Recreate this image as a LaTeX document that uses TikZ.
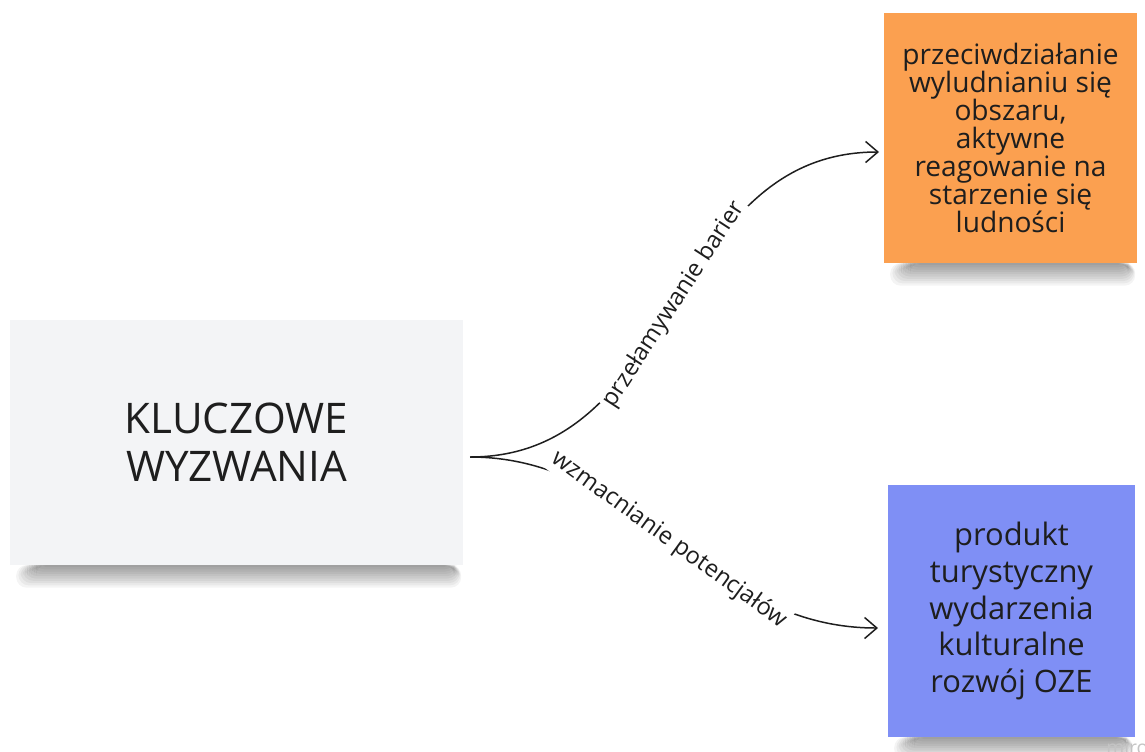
\documentclass[tikz,border=0pt]{standalone}
\usepackage{fontspec}
\setmainfont{Open Sans}
\usetikzlibrary{arrows.meta,calc}
\definecolor{keygray}{HTML}{F3F4F6}
\definecolor{notegold}{HTML}{FBA050}
\definecolor{noteblue}{HTML}{7F8FF5}
\definecolor{inkdark}{HTML}{1E1E1E}
\definecolor{wmark}{HTML}{C4C4C4}
\newcommand\castshadow[3]{% left x, right x, bottom y of the card
  \foreach \i in {1,...,10}{
    \fill[black, opacity=0.045, rounded corners=6]
      (#1+4+\i*2.2, #3) rectangle (#2-1-\i*0.8, #3+25-\i*2.3);
  }}
\tikzset{
  card/.style={rectangle, inner sep=0pt, align=center, text=inkdark},
  keycard/.style={card, fill=keygray, minimum width=9.06cm, minimum height=4.9cm,
    font=\fontsize{24}{27.2}\selectfont},
  goldnote/.style={card, fill=notegold, minimum width=5.06cm, minimum height=5cm,
    font=\fontsize{16}{16}\selectfont},
  bluenote/.style={card, fill=noteblue, minimum width=4.94cm, minimum height=5.04cm,
    font=\fontsize{17.6}{21}\selectfont},
  link/.style={draw=inkdark, line width=0.85pt, -{Straight Barb[length=7pt,width=12pt]}},
  linklabel/.style={sloped, pos=0.5, fill=white, inner sep=1.5pt, text=inkdark,
    font=\fontsize{13.5}{16}\selectfont}
}
\begin{document}
\begin{tikzpicture}[x=0.02cm, y=-0.02cm]
\useasboundingbox (0,0) rectangle (1145,751);
\fill[white] (0,0) rectangle (1145,751);
% shadows
\castshadow{10}{463}{565}
\castshadow{884}{1137}{263}
\castshadow{888}{1135}{737}
% boxes
\node[keycard] (key) at (236.5,442.5) {KLUCZOWE\\WYZWANIA};
\node[goldnote] (gold) at (1010.5,138) {przeciwdziałanie\\wyludnianiu się\\obszaru,\\aktywne\\reagowanie na\\starzenie się\\ludności};
\node[bluenote] (blue) at (1011.5,611) {produkt\\turystyczny\\wydarzenia\\kulturalne\\rozwój OZE};
% connectors
\coordinate (root) at (470,457);
\coordinate (goldin) at (879,152);
\coordinate (bluein) at (878,628);
\draw[link] (root) .. controls (640,457) and (705,628) .. (bluein)
  node[linklabel, pos=0.49] {wzmacnianie potencjałów};
\draw[link] (root) .. controls (680,457) and (668,152) .. (goldin)
  node[linklabel] {przełamywanie barier};
% watermark
\node[anchor=north west, inner sep=0pt, text=wmark, font=\fontsize{11}{12}\selectfont] (mark) at (1106,740) {miro};
\end{tikzpicture}
\end{document}
